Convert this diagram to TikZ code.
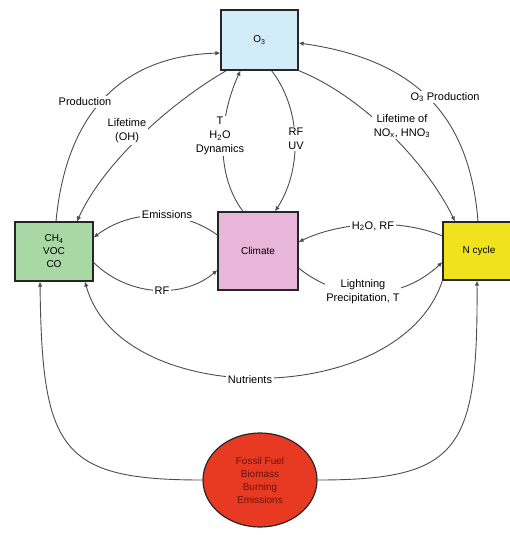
\documentclass[tikz,border=0pt]{standalone}
\usepackage{fontspec}
\setmainfont{Liberation Sans}
\usetikzlibrary{arrows.meta,calc,shapes.geometric}
\definecolor{o3c}{HTML}{D3ECF9}
\definecolor{ch4c}{HTML}{A8D8A4}
\definecolor{climc}{HTML}{E8B6D8}
\definecolor{ncc}{HTML}{F0E21C}
\definecolor{ffc}{HTML}{E83A22}
\definecolor{fftext}{HTML}{6A1208}
\begin{document}
\begin{tikzpicture}[x=1pt,y=-1pt,
  box/.style={draw=black!85,line width=1.2pt,align=center,font=\fontsize{10}{13}\selectfont},
  lab/.style={fill=white,inner sep=1.5pt,align=center,font=\fontsize{11}{14}\selectfont},
  conn/.style={draw=black!70,line width=0.9pt,-{Latex[length=5pt,width=4.5pt]}}]
\useasboundingbox (0,0) rectangle (510,535);
% boxes
\node[box,fill=o3c,minimum width=77pt,minimum height=60pt] (o3) at (259.5,40) {O\textsubscript{3}};
\node[box,fill=ch4c,minimum width=78pt,minimum height=59pt] (ch4) at (54,251.5) {CH\textsubscript{4}\\VOC\\CO};
\node[box,fill=climc,minimum width=80pt,minimum height=78pt] (clim) at (258,251) {Climate};
\node[box,fill=ncc,minimum width=72pt,minimum height=58pt] (nc) at (479,251) {N cycle};
\node[box,ellipse,fill=ffc,text=fftext,minimum width=114pt,minimum height=94pt,inner sep=0pt] (ff) at (260,480) {Fossil Fuel\\Biomass\\Burning\\Emissions};
% connectors
\draw[conn] ($(ch4.north)+(2,0)$) .. controls (66,115) and (120,56) .. ($(o3.west)+(0,13)$);
\draw[conn] ($(o3.south west)+(6,0)$) .. controls (175,100) and (105,160) .. ($(ch4.north)+(23,0)$);
\draw[conn] ($(clim.north)+(-15,0)$) .. controls (212,170) and (222,110) .. ($(o3.south)+(-19,0)$);
\draw[conn] ($(o3.south)+(12,0)$) .. controls (302,110) and (302,170) .. ($(clim.north)+(17,0)$);
\draw[conn] (o3.south east) .. controls (360,95) and (425,160) .. ($(nc.north)+(-24,0)$);
\draw[conn] ($(nc.north)+(-1,0)$) .. controls (470,120) and (420,60) .. ($(o3.east)+(0,3)$);
\draw[conn] ($(clim.west)+(0,-16)$) .. controls (180,208) and (130,210) .. ($(ch4.east)+(0,-14)$);
\draw[conn] ($(ch4.east)+(0,11)$) .. controls (130,298) and (185,298) .. ($(clim.west)+(0,19)$);
\draw[conn] ($(nc.west)+(0,-15)$) .. controls (400,218) and (340,222) .. ($(clim.east)+(0,-9)$);
\draw[conn] ($(clim.east)+(0,17)$) .. controls (340,302) and (400,302) .. ($(nc.west)+(0,11)$);
\draw[conn] (nc.south west) .. controls (400,410) and (120,410) .. ($(ch4.south)+(31,0)$);
\draw[conn] (ff.west) .. controls (60,480) and (42,450) .. ($(ch4.south)+(-14,0)$);
\draw[conn] (ff.east) .. controls (460,480) and (478,450) .. ($(nc.south)+(-2,0)$);
% labels
\node[lab] (lprod) at (85,102) {Production};
\node[lab] (lloh) at (127,131) {Lifetime\\(OH)};
\node[lab] (ltd) at (220,136) {T\\H\textsubscript{2}O\\Dynamics};
\node[lab] (lrf) at (296,139) {RF\\UV};
\node[lab] (lnox) at (402,126) {Lifetime of\\NO\textsubscript{x}, HNO\textsubscript{3}};
\node[lab] (lo3p) at (445,97) {O\textsubscript{3} Production};
\node[lab] (lem) at (167,215) {Emissions};
\node[lab] (lrf2) at (162,291) {RF};
\node[lab] (lh2o) at (373,226) {H\textsubscript{2}O, RF};
\node[lab] (llight) at (363,292) {Lightning\\Precipitation, T};
\node[lab] (lnut) at (250,380) {Nutrients};
\end{tikzpicture}
\end{document}
